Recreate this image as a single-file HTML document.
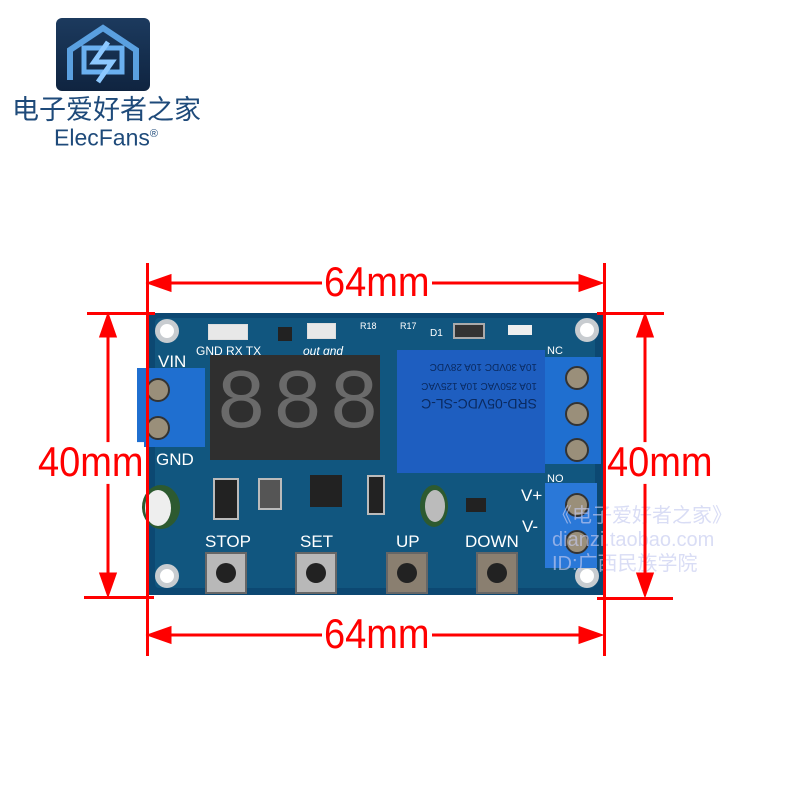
<!DOCTYPE html>
<html><head><meta charset="utf-8"><style>
body{margin:0;width:800px;height:800px;background:#fff;position:relative;overflow:hidden;font-family:"Liberation Sans",sans-serif}
.a{position:absolute}
.red{background:#f00;position:absolute}
.dim{position:absolute;color:#f00;font-size:38px;font-family:"Liberation Sans Narrow","Liberation Sans",sans-serif;line-height:38px;background:#fff;padding:0 2px;transform:scaleY(1.1)}
.w{color:#fff;position:absolute;font-size:17px;line-height:17px}
.hole{position:absolute;width:24px;height:24px;border-radius:50%;background:#fff;border:5px solid #c8ccd0;box-sizing:border-box}
.btn{position:absolute;width:42px;height:42px;background:#b8b8b8;border:2px solid #666;box-sizing:border-box}
.btn::after{content:"";position:absolute;left:9px;top:9px;width:20px;height:20px;border-radius:50%;background:#222}
.scr{position:absolute;width:24px;height:24px;border-radius:50%;background:#9a8f7a;border:2px solid #333;box-sizing:border-box}
.seg{position:absolute;color:#6a6a6a;font-size:84px;font-family:"Liberation Mono",monospace;line-height:84px}
</style></head><body>
<!-- logo -->
<div class="a" style="left:56px;top:18px;width:94px;height:73px;border-radius:6px;background:linear-gradient(#1c3a5e,#0f2440)">
<svg width="94" height="73" viewBox="0 0 94 73"><path d="M14 62 V32 L47 10 L80 32 V62" fill="none" stroke="#5aa0e0" stroke-width="6"/><rect x="28" y="30" width="38" height="24" fill="none" stroke="#6ab0f0" stroke-width="5"/><path d="M52 24 L38 44 H56 L42 64" fill="none" stroke="#8cc8ff" stroke-width="5"/></svg></div>
<div class="a" style="left:12px;top:93px;font-size:27px;color:#1e4a7a;font-family:'Liberation Sans','Noto Sans CJK SC',sans-serif;line-height:34px">电子爱好者之家</div>
<div class="a" style="left:54px;top:121px;font-size:23px;color:#1e4a7a;line-height:26px">ElecFans<sup style="font-size:11px">®</sup></div>

<!-- board -->
<div class="a" style="left:147px;top:313px;width:458px;height:282px;background:#0c4872"></div>
<div class="a" style="left:155px;top:318px;width:440px;height:270px;background:#11567f;border-radius:4px"></div>
<div class="hole" style="left:155px;top:319px"></div>
<div class="hole" style="left:575px;top:318px"></div>
<div class="hole" style="left:155px;top:564px"></div>
<div class="hole" style="left:575px;top:564px"></div>
<div class="a" style="left:208px;top:324px;width:38px;height:14px;border:1px solid #ddd;background:#e8e8e8"></div>
<div class="a" style="left:307px;top:323px;width:27px;height:14px;border:1px solid #ddd;background:#e8e8e8"></div>
<div class="w" style="left:196px;top:343px;font-size:12px">GND RX TX</div>
<div class="w" style="left:303px;top:343px;font-size:12px;font-style:italic">out gnd</div>
<div class="a" style="left:278px;top:327px;width:14px;height:14px;background:#222"></div>
<div class="a" style="left:453px;top:323px;width:28px;height:12px;background:#333;border:2px solid #aaa"></div>
<div class="a" style="left:508px;top:325px;width:24px;height:10px;background:#eee"></div>
<div class="w" style="left:360px;top:318px;font-size:9px">R18</div>
<div class="w" style="left:400px;top:318px;font-size:9px">R17</div>
<div class="w" style="left:430px;top:325px;font-size:10px">D1</div>
<!-- display -->
<div class="a" style="left:210px;top:355px;width:170px;height:105px;background:#2f2f2f"></div>
<div class="seg" style="left:216px;top:364px;letter-spacing:6px">888</div>
<!-- relay -->
<div class="a" style="left:397px;top:350px;width:148px;height:123px;background:#1e5ec0"></div>
<div class="a" style="left:405px;top:356px;font-size:14px;color:#0a2a60;transform:rotate(180deg);transform-origin:66px 28px;width:135px;line-height:16px">SRD-05VDC-SL-C<br><span style="font-size:10px">10A 250VAC 10A 125VAC<br>10A 30VDC 10A 28VDC</span></div>
<!-- right terminal -->
<div class="a" style="left:545px;top:357px;width:56px;height:107px;background:#1f6fd0"></div>
<div class="scr" style="left:565px;top:366px"></div><div class="scr" style="left:565px;top:402px"></div><div class="scr" style="left:565px;top:438px"></div>
<div class="w" style="left:547px;top:343px;font-size:11px">NC</div>
<div class="w" style="left:547px;top:471px;font-size:11px">NO</div>
<div class="a" style="left:545px;top:483px;width:52px;height:85px;background:#2a78d8"></div>
<div class="scr" style="left:565px;top:493px"></div><div class="scr" style="left:565px;top:530px"></div>
<div class="w" style="left:521px;top:487px">V+</div>
<div class="w" style="left:522px;top:518px">V-</div>
<!-- left terminal -->
<div class="a" style="left:137px;top:368px;width:68px;height:79px;background:#1f6fd0"></div>
<div class="scr" style="left:146px;top:378px"></div><div class="scr" style="left:146px;top:416px"></div>
<div class="w" style="left:158px;top:353px">VIN</div>
<div class="w" style="left:156px;top:451px">GND</div>
<!-- components -->
<div class="a" style="left:142px;top:485px;width:38px;height:44px;border-radius:50%;background:#2d5a30"></div>
<div class="a" style="left:145px;top:490px;width:26px;height:36px;border-radius:50%;background:#eee"></div>
<div class="a" style="left:213px;top:478px;width:22px;height:38px;background:#222;border:2px solid #bbb"></div>
<div class="a" style="left:258px;top:478px;width:20px;height:28px;background:#555;border:2px solid #bbb"></div>
<div class="a" style="left:310px;top:475px;width:32px;height:32px;background:#222"></div>
<div class="a" style="left:367px;top:475px;width:14px;height:36px;background:#222;border:2px solid #bbb"></div>
<div class="a" style="left:420px;top:485px;width:28px;height:42px;border-radius:50%;background:#2d5a30"></div>
<div class="a" style="left:425px;top:490px;width:20px;height:32px;border-radius:50%;background:#bbb"></div>
<div class="a" style="left:466px;top:498px;width:20px;height:14px;background:#222"></div>
<!-- buttons -->
<div class="w" style="left:205px;top:533px">STOP</div>
<div class="w" style="left:300px;top:533px">SET</div>
<div class="w" style="left:396px;top:533px">UP</div>
<div class="w" style="left:465px;top:533px">DOWN</div>
<div class="btn" style="left:205px;top:552px"></div>
<div class="btn" style="left:295px;top:552px"></div>
<div class="btn" style="left:386px;top:552px;background:#8a7f70"></div>
<div class="btn" style="left:476px;top:552px;background:#8a7f70"></div>
<!-- watermark -->
<div class="a" style="left:552px;top:504px;color:#c6cbf0;font-size:20px;line-height:24px;font-family:'Liberation Sans','Noto Sans CJK SC',sans-serif;opacity:.65">《电子爱好者之家》<br>dianzi.taobao.com<br>ID:广西民族学院</div>

<!-- dimension lines -->
<div class="red" style="left:146px;top:263px;width:3px;height:393px"></div>
<div class="red" style="left:603px;top:263px;width:3px;height:393px"></div>
<div class="red" style="left:87px;top:312px;width:68px;height:3px"></div>
<div class="red" style="left:84px;top:596px;width:70px;height:3px"></div>
<div class="red" style="left:597px;top:312px;width:67px;height:3px"></div>
<div class="red" style="left:597px;top:597px;width:76px;height:3px"></div>
<svg class="a" style="left:0;top:0" width="800" height="800">
<g stroke="#f00" stroke-width="3" fill="#f00">
<line x1="155" y1="283" x2="598" y2="283"/><polygon points="150,283 170,276 170,290"/><polygon points="600,283 580,276 580,290"/>
<line x1="155" y1="635" x2="598" y2="635"/><polygon points="150,635 170,628 170,642"/><polygon points="600,635 580,628 580,642"/>
<line x1="108" y1="320" x2="108" y2="590"/><polygon points="108,316 101,336 115,336"/><polygon points="108,594 101,574 115,574"/>
<line x1="645" y1="320" x2="645" y2="590"/><polygon points="645,316 638,336 652,336"/><polygon points="645,594 638,574 652,574"/>
</g></svg>
<div class="dim" style="left:322px;top:264px">64mm</div>
<div class="dim" style="left:322px;top:616px">64mm</div>
<div class="dim" style="left:38px;top:444px;padding:0">40mm</div>
<div class="dim" style="left:607px;top:444px;padding:0">40mm</div>
</body></html>
